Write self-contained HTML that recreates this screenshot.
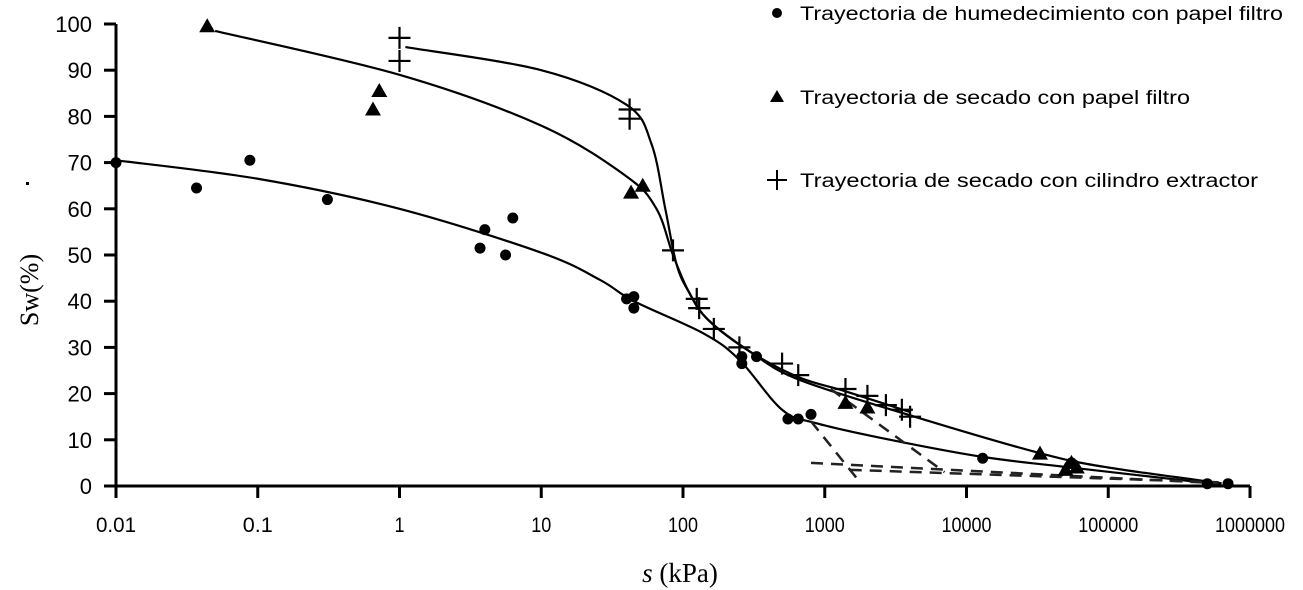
<!DOCTYPE html>
<html><head><meta charset="utf-8"><style>
body{margin:0;background:#fff;}
svg{display:block;font-family:"Liberation Sans",sans-serif;}
</style></head><body>
<svg id="chart" width="1303" height="590" viewBox="0 0 1303 590" xmlns="http://www.w3.org/2000/svg">
<g id="axes"></g>
<g id="curves"></g>
<g id="marks"></g>
<text transform="translate(38,290) rotate(-90)" text-anchor="middle" font-family="Liberation Serif,serif" font-size="26">Sw(%)</text>
<rect x="26" y="182" width="3" height="3" fill="#000"/>
<text x="680" y="582" text-anchor="middle" font-family="Liberation Serif,serif" font-size="27"><tspan font-style="italic">s</tspan> (kPa)</text>
<g font-size="19">
 <g><circle cx="777" cy="13" r="5" fill="#000"/><text x="800" y="20" textLength="483" lengthAdjust="spacingAndGlyphs">Trayectoria de humedecimiento con papel filtro</text></g>
 <g><path d="M770,102 L777,90 L784,102Z" fill="#000"/><text x="800" y="104" textLength="390" lengthAdjust="spacingAndGlyphs">Trayectoria de secado con papel filtro</text></g>
 <g><path d="M777,170 V190 M767,180 H787" stroke="#000" stroke-width="2"/><text x="800" y="187" textLength="458" lengthAdjust="spacingAndGlyphs">Trayectoria de secado con cilindro extractor</text></g>
</g>
</svg>
<script>
const xTicks=[0.01,0.1,1,10,100,1000,10000,100000,1000000];
const xTickLabels=["0.01","0.1","1","10","100","1000","10000","100000","1000000"];
const yTicks=[0,10,20,30,40,50,60,70,80,90,100];
const wetS=[0.01,0.037,0.088,0.31,3.7,4,5.6,6.3,40,45,45,260,260,330,550,650,800,13000,55000,500000,700000];
const wetV=[70,64.5,70.5,62,51.5,55.5,50,58,40.5,41,38.5,26.5,28,28,14.5,14.5,15.5,6,5,0.5,0.5];
const dryS=[0.044,0.65,0.72,43,52,1400,2000,33000,55000,50000,60000];
const dryV=[99.5,81.5,85.5,63.5,65,18,17,7,5,3.5,4];
const extS=[1,1,42,42,85,125,130,165,250,500,650,1400,2000,2700,3500,4000];
const extV=[97,92,81.5,79.5,51,40.5,38.5,34,30,26.5,24,21,19.5,17.5,16.5,15];
const wetCurveS=[0.01,0.1,1,10,26,45,140,250,500,870,2900,13000,51000,630000];
const wetCurveV=[70.5,66.5,60,50.5,44.6,40,33,27.3,16.5,13.6,10,6.3,4.1,0.3];
const dryCurveS=[0.05,1,10,40,65,85,110,150,300,660,4300,33000,100000,630000];
const dryCurveV=[98.5,89,78,67,60,50,42,36,29,23,15,7.1,4,0.6];
const extCurveS=[1.1,10,40,60,75,90,110,150,300,660,1400,4000];
const extCurveV=[95,90,82.5,74,60,48,42,36,29,23.5,20.5,16];
const dashA_S=[800,1700], dashA_V=[14,1.5];
const dashB_S=[1100,7000], dashB_V=[21,3];
const dashC_S=[800,600000], dashC_V=[5,0.6];
const dashD_S=[1500,600000], dashD_V=[3.5,0.8];

const X0=116,DEC=141.75,Y0=486,YU=4.62;
const xs=s=>X0+DEC*(Math.log10(s)+2);
const ys=v=>Y0-YU*v;
const NS="http://www.w3.org/2000/svg";
function mk(tag,parent,attrs){const e=document.createElementNS(NS,tag);for(const k in attrs)e.setAttribute(k,attrs[k]);parent.appendChild(e);return e;}
const axes=document.getElementById('axes');
let a=mk('path',axes,{d:`M${X0},${ys(100)} V${Y0} H${xs(1000000)}`,stroke:'#000','stroke-width':3,fill:'none'});


yTicks.forEach(v=>{
 const t=mk('line',axes,{x1:104,x2:X0,y1:ys(v),y2:ys(v),stroke:'#000','stroke-width':3});
 
 
 const l=mk('text',axes,{x:92,y:ys(v)+8,'text-anchor':'end','font-size':22});
 
 
 l.textContent=v;
});
xTicks.forEach((s,i)=>{
 const t=mk('line',axes,{x1:xs(s),x2:xs(s),y1:Y0,y2:Y0+12,stroke:'#000','stroke-width':3});
 
 
 const l=mk('text',axes,{x:xs(s),y:532,'text-anchor':'middle','font-size':21,textLength:xTickLabels[i].length*10,lengthAdjust:'spacingAndGlyphs'});
 
 
 l.textContent=xTickLabels[i];
});
function smooth(S,V){
 const p=S.map((s,i)=>[xs(s),ys(V[i])]);
 let d=`M${p[0][0]},${p[0][1]}`;
 for(let i=0;i<p.length-1;i++){
  const p0=p[i-1]||p[i],p1=p[i],p2=p[i+1],p3=p[i+2]||p2;
  const c1=[p1[0]+(p2[0]-p0[0])/6,p1[1]+(p2[1]-p0[1])/6];
  const c2=[p2[0]-(p3[0]-p1[0])/6,p2[1]-(p3[1]-p1[1])/6];
  d+=` C${c1[0]},${c1[1]} ${c2[0]},${c2[1]} ${p2[0]},${p2[1]}`;
 }
 return d;
}
const cg=document.getElementById('curves');
[[wetCurveS,wetCurveV,'wetting-fit-curve'],[dryCurveS,dryCurveV,'drying-filter-fit-curve'],[extCurveS,extCurveV,'drying-extractor-fit-curve']].forEach(c=>{
 const e=mk('path',cg,{d:smooth(c[0],c[1]),stroke:'#000','stroke-width':2.2,fill:'none'});
 
 
});
[[dashA_S,dashA_V],[dashB_S,dashB_V],[dashC_S,dashC_V],[dashD_S,dashD_V]].forEach(c=>{
 const e=mk('path',cg,{d:`M${xs(c[0][0])},${ys(c[1][0])} L${xs(c[0][1])},${ys(c[1][1])}`,stroke:'#222','stroke-width':2.5,'stroke-dasharray':'12,8',fill:'none'});
 
 
});
const mg=document.getElementById('marks');
wetS.forEach((s,i)=>{
 const e=mk('circle',mg,{cx:xs(s),cy:ys(wetV[i]),r:5.5,fill:'#000'});
 
 
});
dryS.forEach((s,i)=>{
 const x=xs(s),y=ys(dryV[i]);
 const e=mk('path',mg,{d:`M${x-8},${y+6} L${x},${y-8} L${x+8},${y+6}Z`,fill:'#000'});
 
 
});
extS.forEach((s,i)=>{
 const x=xs(s),y=ys(extV[i]);
 const e=mk('path',mg,{d:`M${x},${y-11} V${y+11} M${x-11},${y} H${x+11}`,stroke:'#000','stroke-width':2.2});
 
 
});
</script>
</body></html>
